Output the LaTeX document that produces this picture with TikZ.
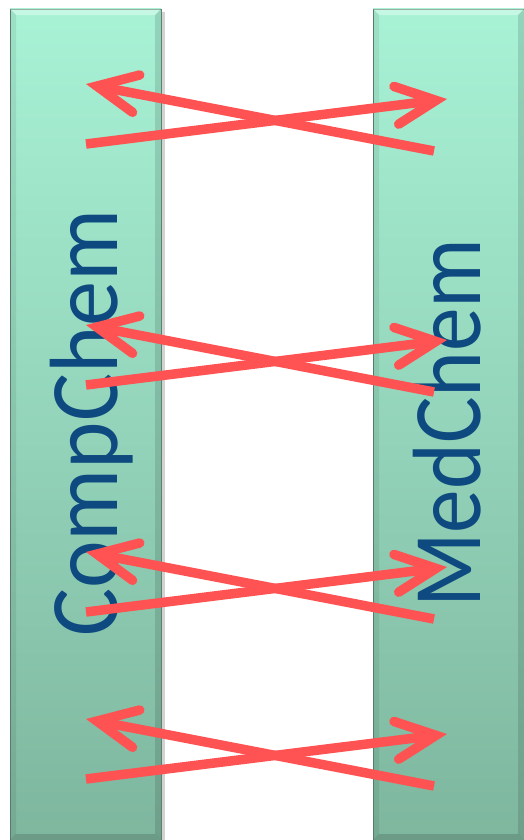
\documentclass[tikz,border=0pt]{standalone}
\usepackage{fontspec}
\newfontfamily\labelfont{Carlito}
\usetikzlibrary{arrows.meta}
\definecolor{mintTop}{RGB}{168,242,214}
\definecolor{mintBot}{RGB}{126,182,158}
\definecolor{rimCol}{RGB}{96,132,116}
\definecolor{labelBlue}{RGB}{14,74,128}
\definecolor{arrowRed}{RGB}{255,82,82}
\newcommand\bevelbar[4]{%
  \fill[white,opacity=.35] (#1,#2) -- (#3,#2) -- (#3-6,#2+6) -- (#1+6,#2+6) -- cycle;
  \fill[black,opacity=.07] (#1,#2) -- (#1+6,#2+6) -- (#1+6,#4-6) -- (#1,#4) -- cycle;
  \fill[black,opacity=.12] (#3,#2) -- (#3-6,#2+6) -- (#3-6,#4-6) -- (#3,#4) -- cycle;
  \fill[black,opacity=.14] (#1,#4) -- (#1+6,#4-6) -- (#3-6,#4-6) -- (#3,#4) -- cycle;
  \draw[gray,opacity=.35,line width=3pt] (#3+2,#2+3) -- (#3+2,#4);
}
\begin{document}
\begin{tikzpicture}[x=1pt,y=-1pt,
  bar/.style={rectangle, inner sep=0pt, minimum width=151pt, minimum height=831pt,
    top color=mintTop, bottom color=mintBot, draw=rimCol, line width=0.8pt},
  lbl/.style={text=labelBlue, font=\labelfont\fontsize{97}{97}\selectfont,
    inner sep=0pt, rotate=90, anchor=base west},
  xarrow/.style={draw=arrowRed, line width=9.5pt,
    -{Straight Barb[length=40pt,width=38pt,line cap=round,line join=miter]}}
]
\useasboundingbox (0,0) rectangle (523,840);
\fill[white] (0,0) rectangle (523,840);
\node[bar] (leftbar) at (85.5,424.5) {};
\node[bar] (rightbar) at (448.5,424.5) {};
\bevelbar{10}{9}{161}{840}
\bevelbar{373}{9}{524}{840}
\node[lbl] (comp) at (117,637) {\scalebox{0.93}[1]{CompChem}};
\node[lbl] (med) at (480,608) {\scalebox{0.9}[1]{MedChem}};
\foreach \i/\y in {1/84,2/325,3/552,4/719}{
  \coordinate (ltip\i) at (86,\y);
  \coordinate (ltail\i) at (434,\y+67);
  \coordinate (rtail\i) at (86,\y+60);
  \coordinate (rtip\i) at (447,\y+15);
  \draw[xarrow] (ltail\i) -- (ltip\i);
  \draw[xarrow] (rtail\i) -- (rtip\i);
}
\end{tikzpicture}
\end{document}
